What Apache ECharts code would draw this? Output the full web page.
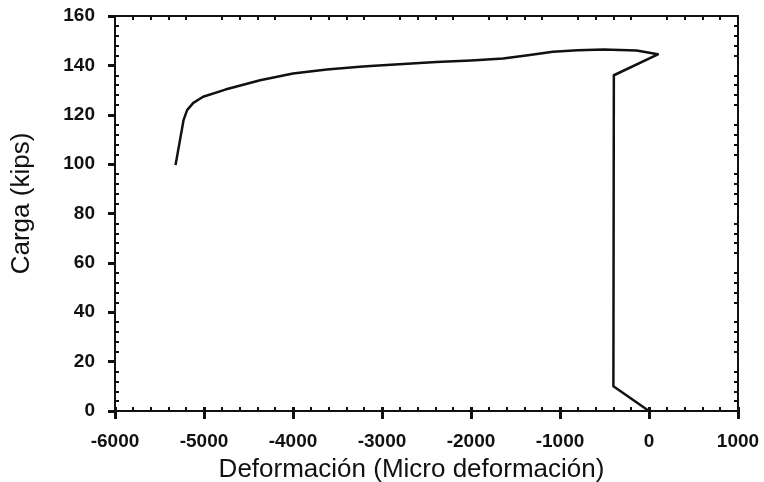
<!DOCTYPE html>
<html>
<head>
<meta charset="utf-8">
<script src="https://cdn.jsdelivr.net/npm/echarts@6/dist/echarts.min.js"></script>
<style>
  html, body { margin: 0; padding: 0; background: #fff; }
  #chart { width: 764px; height: 482px; }
</style>
</head>
<body>
<div id="chart"></div>
<script>
// deformación (micro deformación) vs carga (kips)
const deformacion = [0, -400, -395, 100, -140, -510, -800, -1080, -1360, -1640, -2000, -2390, -3130, -3250, -3620, -4000, -4370, -4760, -5010, -5120, -5190, -5230, -5320];
const carga = [0, 10, 136, 144.5, 146, 146.4, 146.1, 145.5, 144.1, 142.8, 142, 141.4, 139.7, 139.4, 138.3, 136.7, 134, 130.2, 127.3, 124.8, 121.9, 117.8, 99.6];

const xName = 'Deformación (Micro deformación)';
const yName = 'Carga (kips)';

const ink = '#111';
const labelFont = { color: ink, fontSize: 19, fontWeight: 'bold', fontFamily: '"Liberation Sans", Arial, sans-serif', formatter: v => String(v) };
const nameFont = { color: ink, fontSize: 26, fontFamily: '"Liberation Sans", Arial, sans-serif' };

const xRange = { min: -6000, max: 1000, interval: 1000 };
const yRange = { min: 0, max: 160, interval: 20 };
const gridBox = { left: 115, right: 26, top: 16, bottom: 71, containLabel: false, outerBoundsMode: 'none' };
const frame = { onZero: false, lineStyle: { color: ink, width: 2 } };

let myChart = echarts.init(document.getElementById('chart'));
myChart.setOption({
  backgroundColor: '#fff',
  animation: false,
  // two grids on the same box: one for outward major ticks, one for inward minor ticks
  grid: [
    Object.assign({}, gridBox),
    Object.assign({}, gridBox)
  ],
  xAxis: [
    Object.assign({
      type: 'value', gridIndex: 0, position: 'bottom',
      name: xName, nameLocation: 'middle', nameGap: 46,
      nameTextStyle: Object.assign({ padding: [0, 30, 0, 0] }, nameFont),
      axisLine: frame,
      axisTick: { show: true, inside: false, length: 8, lineStyle: { color: ink, width: 3 } },
      minorTick: { show: false },
      axisLabel: Object.assign({ margin: 21, showMinLabel: true, showMaxLabel: true }, labelFont),
      splitLine: { show: false }
    }, xRange),
    Object.assign({
      type: 'value', gridIndex: 0, position: 'top',
      axisLine: frame,
      axisTick: { show: false, inside: true },
      minorTick: { show: true, splitNumber: 5, length: 4, lineStyle: { color: ink, width: 2 } },
      axisLabel: { show: false },
      splitLine: { show: false }
    }, xRange),
    Object.assign({
      type: 'value', gridIndex: 1, position: 'bottom',
      axisLine: { show: false, onZero: false },
      axisTick: { show: true, inside: true, length: 4, lineStyle: { color: ink, width: 3 } },
      minorTick: { show: true, splitNumber: 5, length: 4, lineStyle: { color: ink, width: 2 } },
      axisLabel: { show: false },
      splitLine: { show: false }
    }, xRange)
  ],
  yAxis: [
    Object.assign({
      type: 'value', gridIndex: 0, position: 'left',
      name: yName, nameLocation: 'middle', nameGap: 80, nameRotate: 90,
      nameTextStyle: Object.assign({ padding: [0, 0, 0, 20] }, nameFont),
      axisLine: frame,
      axisTick: { show: true, inside: false, length: 7, lineStyle: { color: ink, width: 3 } },
      minorTick: { show: false },
      axisLabel: Object.assign({ margin: 20, padding: [6, 0, 0, 0], showMinLabel: true, showMaxLabel: true }, labelFont),
      splitLine: { show: false }
    }, yRange),
    Object.assign({
      type: 'value', gridIndex: 0, position: 'right',
      axisLine: frame,
      axisTick: { show: false, inside: true },
      minorTick: { show: true, splitNumber: 5, length: 4, lineStyle: { color: ink, width: 2 } },
      axisLabel: { show: false },
      splitLine: { show: false }
    }, yRange),
    Object.assign({
      type: 'value', gridIndex: 1, position: 'left',
      axisLine: { show: false, onZero: false },
      axisTick: { show: false, inside: true },
      minorTick: { show: true, splitNumber: 5, length: 4, lineStyle: { color: ink, width: 2 } },
      axisLabel: { show: false },
      splitLine: { show: false }
    }, yRange)
  ],
  series: [
    {
      type: 'line',
      xAxisIndex: 0,
      yAxisIndex: 0,
      data: deformacion.map((d, i) => [d, carga[i]]),
      showSymbol: false,
      smooth: false,
      lineStyle: { color: ink, width: 2.5, join: 'round' }
    }
  ]
});
</script>
</body>
</html>
